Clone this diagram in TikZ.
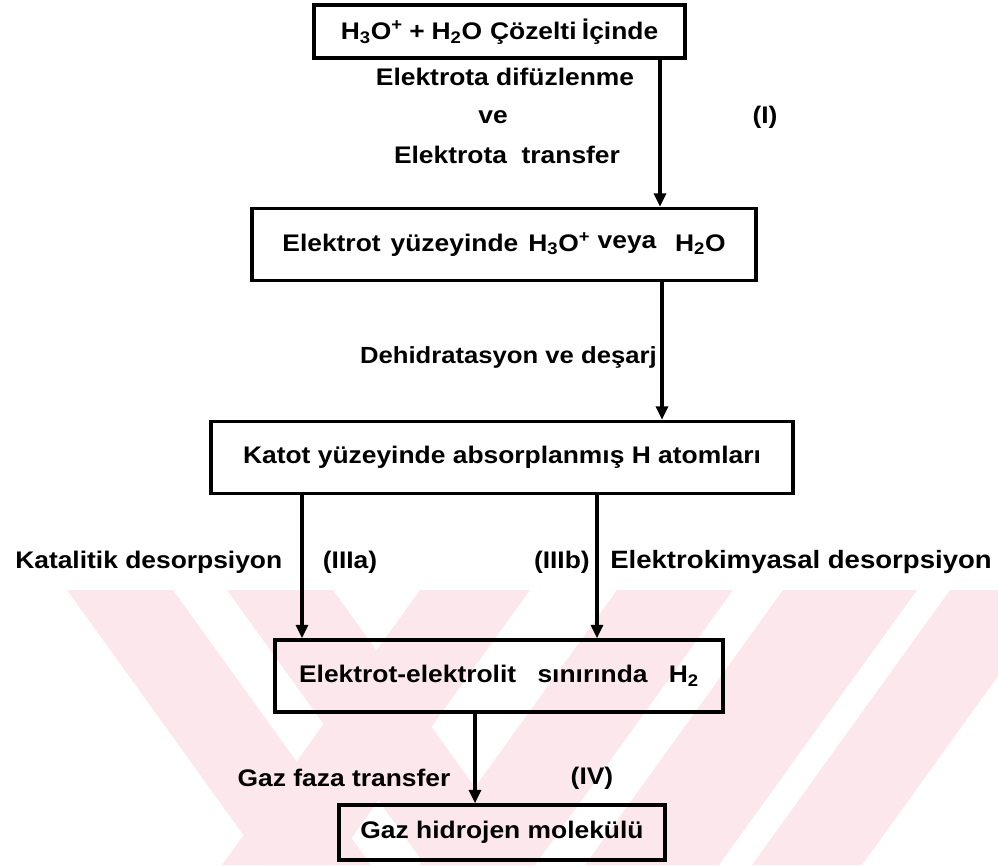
\documentclass[tikz,border=0pt]{standalone}
\usepackage{fontspec}
\setmainfont{Liberation Sans}[FakeStretch=1.1]
\usetikzlibrary{arrows.meta}
\definecolor{wm}{RGB}{252,232,236}
\begin{document}
\begin{tikzpicture}[x=0.75pt,y=-0.75pt,
  lbl/.style={font=\bfseries\fontsize{18}{21}\selectfont, inner sep=0pt},
  box/.style={lbl, draw, line width=2.6pt, rectangle},
  arr/.style={line width=2.3pt, -{Triangle[width=9pt,length=10pt]}},
  wmark/.style={fill=wm, draw=none},
  ]
\useasboundingbox (0,0) rectangle (998,865);
% faint watermark stripes
\begin{scope}
\clip (0,590) rectangle (998,865);
\fill[wmark] (67,590) -- (173,590) -- (371,865) -- (265,865) -- cycle;
\fill[wmark] (227,590) -- (333,590) -- (531,865) -- (425,865) -- cycle;
\fill[wmark] (420,590) -- (530,590) -- (332,865) -- (222,865) -- cycle;
\fill[wmark] (617,590) -- (733,590) -- (535,865) -- (419,865) -- cycle;
\fill[wmark] (783,590) -- (917,590) -- (719,865) -- (585,865) -- cycle;
\fill[wmark] (950,590) -- (1060,590) -- (862,865) -- (752,865) -- cycle;
\end{scope}
% boxes
\node[box, minimum width={371*0.75pt}, minimum height={53*0.75pt}] (b1) at (499.5,31.5)
  {H\textsubscript{3}O\textsuperscript{+}\hspace{5pt}+\hspace{5pt}H\textsubscript{2}O\hspace{6pt}Çözelti\hspace{4pt}İçinde};
\node[box, minimum width={504*0.75pt}, minimum height={72*0.75pt}] (b2) at (504,244.5)
  {Elektrot\hspace{2pt} yüzeyinde\hspace{2pt} H\textsubscript{3}O\textsuperscript{+} \raisebox{2pt}{veya}\hspace{14pt}H\textsubscript{2}O};
\node[box, minimum width={582*0.75pt}, minimum height={72*0.75pt}] (b3) at (502,457.5)
  {Katot yüzeyinde absorplanmış H atomları};
\node[box, minimum width={448*0.75pt}, minimum height={72*0.75pt}] (b4) at (499,676)
  {Elektrot-elektrolit\hspace{16pt}sınırında\hspace{16pt}H\textsubscript{2}};
\node[box, minimum width={326*0.75pt}, minimum height={55*0.75pt}] (b5) at (502,832.5)
  {Gaz hidrojen molekülü};
% labels
\node[lbl] (l1) at (505,77) {Elektrota difüzlenme};
\node[lbl] (l2) at (493,117) {ve};
\node[lbl] (l3) at (507,155) {Elektrota\ \ transfer};
\node[lbl] (l4) at (765,117) {(I)};
\node[lbl, anchor=east, font=\bfseries\fontsize{17.5}{21}\selectfont] (l5) at (657,357) {Dehidratasyon ve deşarj};
\node[lbl, anchor=west] (l6) at (15,562) {Katalitik desorpsiyon};
\node[lbl] (l7) at (350,562) {(IIIa)};
\node[lbl, anchor=east] (l8) at (590,562) {(IIIb)};
\node[lbl, anchor=west, font=\bfseries\fontsize{18.8}{21}\selectfont] (l9) at (610,562) {Elektrokimyasal desorpsiyon};
\node[lbl] (l10) at (344,778) {Gaz faza transfer};
\node[lbl] (l11) at (592,778) {(IV)};
% connectors
\coordinate (xI) at (660,0);
\coordinate (xII) at (662,0);
\coordinate (xA) at (302,0);
\coordinate (xB) at (597,0);
\coordinate (xIV) at (475,0);
\draw[arr] (b1.south -| xI) -- (b2.north -| xI);
\draw[arr] (b2.south -| xII) -- (b3.north -| xII);
\draw[arr] (b3.south -| xA) -- (b4.north -| xA);
\draw[arr] (b3.south -| xB) -- (b4.north -| xB);
\draw[arr] (b4.south -| xIV) -- (b5.north -| xIV);
\end{tikzpicture}
\end{document}
